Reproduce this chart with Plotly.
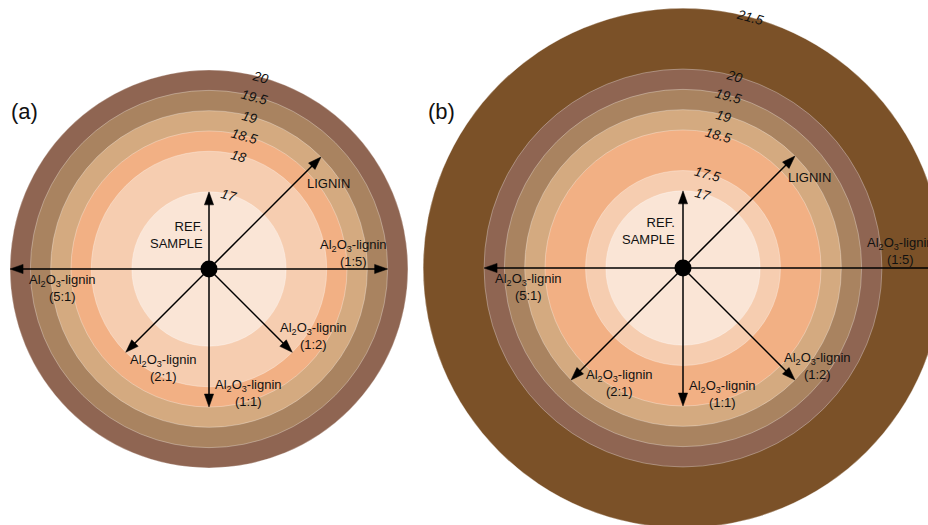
import math
import plotly.graph_objects as go

# Ring boundaries (values) and fills for each panel
rings_a = [17, 18, 18.5, 19, 19.5, 20]
rings_b = [17, 17.5, 18.5, 19, 19.5, 20, 21.5]
ring_colors_a = ["#fae5d6", "#f6cdb0", "#f2b084", "#d4aa80", "#a98360", "#8f6552"]
ring_colors_b = ["#fae5d6", "#f6cdb0", "#f2b084", "#d4aa80", "#a98360", "#8f6552", "#7b5128"]
ring_labels_a = ["17", "18", "18.5", "19", "19.5", "20"]
ring_labels_b = ["17", "17.5", "18.5", "19", "19.5", "20", "21.5"]

# Samples, their direction on the diagram and their value in each panel
sample_names = ["REF.<br>SAMPLE", "LIGNIN",
                "Al<sub>2</sub>O<sub>3</sub>-lignin<br>(1:5)",
                "Al<sub>2</sub>O<sub>3</sub>-lignin<br>(5:1)",
                "Al<sub>2</sub>O<sub>3</sub>-lignin<br>(1:2)",
                "Al<sub>2</sub>O<sub>3</sub>-lignin<br>(2:1)",
                "Al<sub>2</sub>O<sub>3</sub>-lignin<br>(1:1)"]
sample_angles = [90, 45, 0, 180, -45, -135, -90]
values_a = [17, 19, 19.5, 20, 18, 18, 18.5]
values_b = [17, 19, 21.5, 20, 19, 19, 18.5]

# Radial scale: pixels per unit and the value at the centre
K = 40.6
V0 = 15.1
W, H = 928, 525

# label offsets (px from centre, x right / y down) and anchors
label_pos_a = [(-4, -34, "right"), (119, -86, "center"), (144, -16, "center"),
               (-147, 19, "center"), (104, 67, "center"), (-46, 99, "center"),
               (39, 124, "center")]
label_pos_b = [(-6, -37, "right"), (126, -91, "center"), (217, -17, "center"),
               (-155, 19, "center"), (134, 98, "center"), (-64, 115, "center"),
               (39, 126, "center")]

FONT = "Liberation Sans, Arial, sans-serif"


def rad(v):
    return v - V0


fig = go.Figure()
shapes = []
annotations = []


def panel(xr, yr, rings, colors, ring_labels, values, label_pos, tag, tag_xy):
    # rings, outermost first
    for v, c in sorted(zip(rings, colors), key=lambda t: -t[0]):
        r = rad(v)
        shapes.append(dict(type="circle", xref=xr, yref=yr, x0=-r, x1=r, y0=-r, y1=r,
                           fillcolor=c, line=dict(color="rgba(255,255,255,0.3)", width=1),
                           layer="below"))
    # value labels on the ring edges
    tilt = 15
    for v, t in zip(rings, ring_labels):
        r = rad(v) - 1.0 / K
        a = math.radians(tilt)
        annotations.append(dict(xref=xr, yref=yr, x=r * math.sin(a), y=r * math.cos(a),
                                text=t, showarrow=False, textangle=tilt,
                                font=dict(family=FONT, size=13.5, color="#111", style="italic")))
    # arrows
    head_len = 13.0 / K
    head_half = 4.6 / K
    for v, ang in zip(values, sample_angles):
        r = rad(v)
        th = math.radians(ang)
        ux, uy = math.cos(th), math.sin(th)
        tipx, tipy = r * ux, r * uy
        bx, by = (r - head_len) * ux, (r - head_len) * uy
        shapes.append(dict(type="line", xref=xr, yref=yr, x0=0, y0=0,
                           x1=bx + 0.1 * head_len * ux, y1=by + 0.1 * head_len * uy,
                           line=dict(color="black", width=1.5)))
        px, py = -uy, ux
        path = (f"M{tipx},{tipy} L{bx + head_half * px},{by + head_half * py} "
                f"L{bx - head_half * px},{by - head_half * py} Z")
        shapes.append(dict(type="path", xref=xr, yref=yr, path=path,
                           fillcolor="black", line=dict(color="black", width=0.5)))
    # centre dot
    d = 8.5 / K
    shapes.append(dict(type="circle", xref=xr, yref=yr, x0=-d, x1=d, y0=-d, y1=d,
                       fillcolor="black", line=dict(color="black", width=0)))
    # sample labels
    for name, (ox, oy, anchor) in zip(sample_names, label_pos):
        annotations.append(dict(xref=xr, yref=yr, x=ox / K, y=-oy / K, text=name,
                                showarrow=False, xanchor=anchor, yanchor="middle",
                                align=anchor,
                                font=dict(family=FONT, size=13, color="#111")))
    # panel tag
    annotations.append(dict(xref=xr, yref=yr, x=tag_xy[0] / K, y=-tag_xy[1] / K,
                            text=tag, showarrow=False,
                            font=dict(family=FONT, size=22, color="#111")))


# panel (a) centred at (209, 269) px, panel (b) at (683, 268) px
split = 418
ca = (209, 269)
cb = (683, 268)

panel("x", "y", rings_a, ring_colors_a, ring_labels_a, values_a, label_pos_a,
      "(a)", (24 - ca[0], 111 - ca[1]))
panel("x2", "y2", rings_b, ring_colors_b, ring_labels_b, values_b, label_pos_b,
      "(b)", (441 - cb[0], 111 - cb[1]))

axis_common = dict(visible=False, showgrid=False, zeroline=False, fixedrange=True)
fig.update_layout(
    width=W, height=H,
    margin=dict(l=0, r=0, t=0, b=0),
    paper_bgcolor="white", plot_bgcolor="rgba(0,0,0,0)",
    showlegend=False,
    xaxis=dict(domain=[0, split / W], range=[-ca[0] / K, (split - ca[0]) / K], **axis_common),
    yaxis=dict(domain=[0, 1], range=[-(H - ca[1]) / K, ca[1] / K], **axis_common),
    xaxis2=dict(domain=[split / W, 1], range=[-(cb[0] - split) / K, (W - cb[0]) / K],
                anchor="y2", **axis_common),
    yaxis2=dict(domain=[0, 1], range=[-(H - cb[1]) / K, cb[1] / K], anchor="x2", **axis_common),
    shapes=shapes,
    annotations=annotations,
)
# invisible traces so both subplots are instantiated
fig.add_trace(go.Scatter(x=[0], y=[0], xaxis="x", yaxis="y", mode="markers",
                         marker=dict(opacity=0), hoverinfo="skip"))
fig.add_trace(go.Scatter(x=[0], y=[0], xaxis="x2", yaxis="y2", mode="markers",
                         marker=dict(opacity=0), hoverinfo="skip"))

fig.write_html("out.html")
